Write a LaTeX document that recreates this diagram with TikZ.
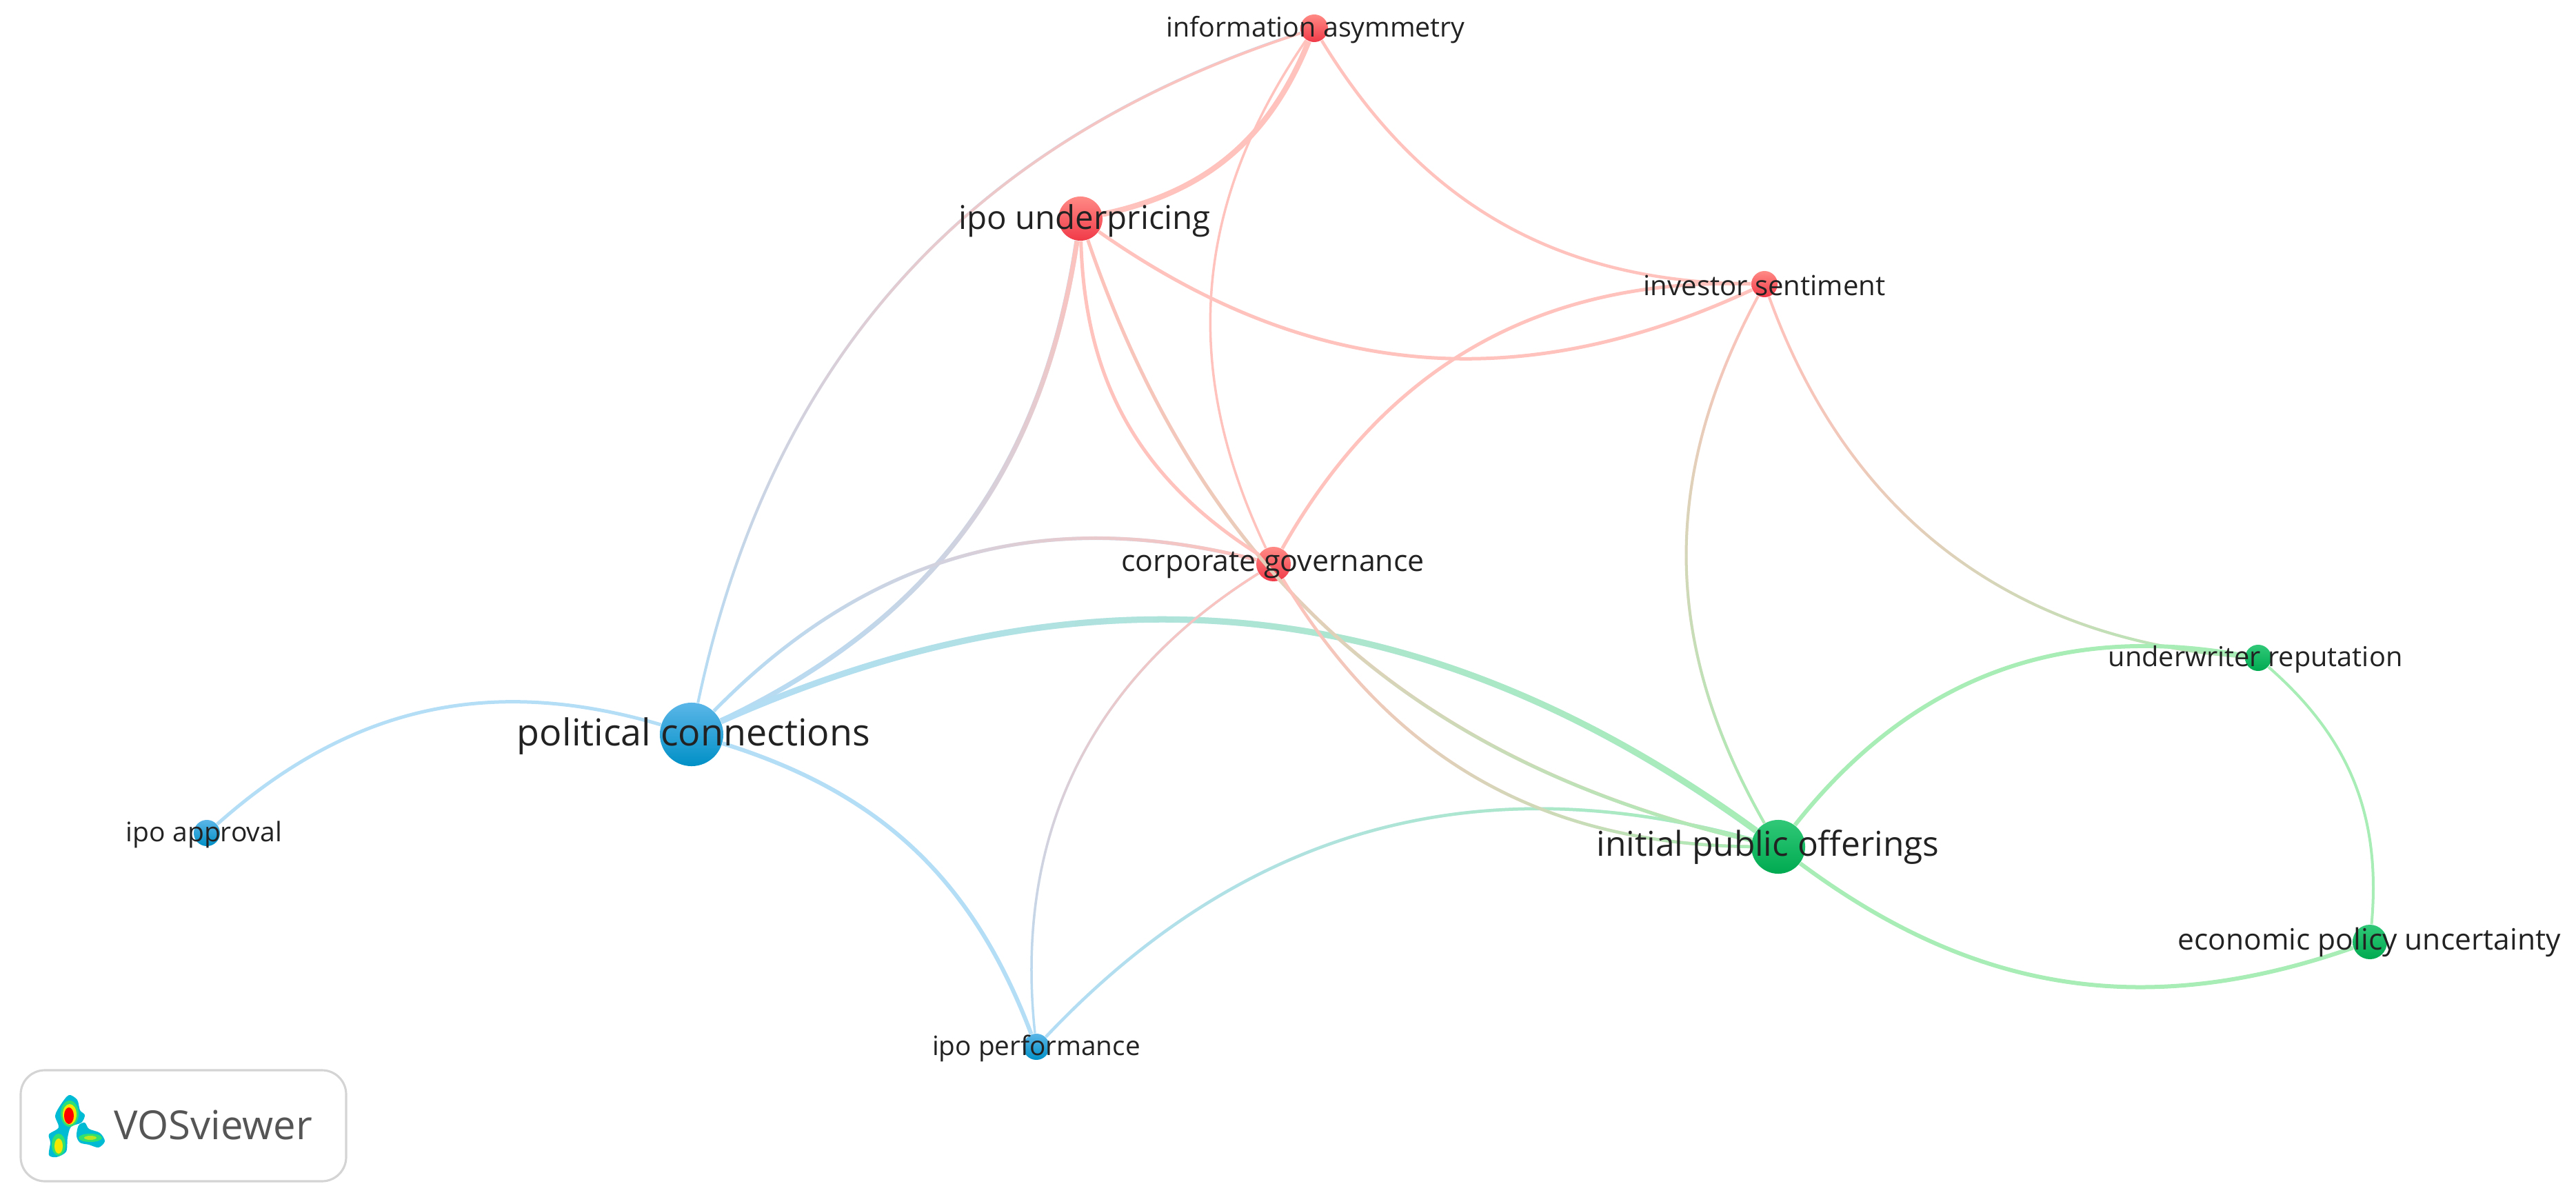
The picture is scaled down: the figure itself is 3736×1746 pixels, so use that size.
\documentclass[tikz,border=0pt]{standalone}
\usepackage[HTML]{xcolor}
\usepackage{fontspec}
\setmainfont{Open Sans}
\usepackage{tikz}
\usetikzlibrary{fadings}

\definecolor{bluelink}{HTML}{B4DDF6}
\definecolor{redlink}{HTML}{FFC2BC}
\definecolor{greenlink}{HTML}{A8EDB6}
\definecolor{labeltext}{HTML}{222222}
\definecolor{bluetop}{HTML}{5BB6E8}
\definecolor{bluebot}{HTML}{0090C6}
\definecolor{redtop}{HTML}{FF8A85}
\definecolor{redbot}{HTML}{F03A48}
\definecolor{greentop}{HTML}{30C878}
\definecolor{greenbot}{HTML}{00AA50}
\definecolor{logoedge}{HTML}{D4D4D4}
\definecolor{logotext}{HTML}{555555}
\definecolor{heatcyan}{HTML}{00BBD4}
\definecolor{heatgreen}{HTML}{30E070}
\definecolor{heatyellow}{HTML}{F4E800}

\tikzset{
  kw/.style={circle,draw=none,inner sep=0pt,minimum size=#1*0.02cm},
  bluekw/.style={kw=#1,top color=bluetop,bottom color=bluebot},
  redkw/.style={kw=#1,top color=redtop,bottom color=redbot},
  greenkw/.style={kw=#1,top color=greentop,bottom color=greenbot},
  lbl/.style={inner sep=0pt,text=labeltext,font=\fontsize{#1}{#1}\selectfont},
  link/.style={line width=#1*0.2845pt},
  mixlink/.style n args={3}{draw=#1,postaction={draw=#2,path fading=#3}}
}

\begin{document}
\begin{tikzpicture}[x=0.01cm,y=-0.01cm]
\useasboundingbox (0,0) rectangle (3736,1746);

% keywords
\node[redkw=20] (info) at (1906,41) {};
\node[redkw=32] (under) at (1567,317) {};
\node[redkw=19] (sentiment) at (2559,412) {};
\node[redkw=25] (corp) at (1847,818) {};
\node[bluekw=46] (polcon) at (1003,1065) {};
\node[bluekw=19] (approval) at (300,1208) {};
\node[bluekw=19] (perf) at (1503,1518) {};
\node[greenkw=39] (ipos) at (2579,1228) {};
\node[greenkw=19] (reput) at (3275,954) {};
\node[greenkw=25] (epu) at (3437,1366) {};

% links
\draw[bluelink,link=5] (polcon) to[bend right=29] (approval);
\draw[bluelink,link=6] (polcon) to[bend left=26] (perf);
\draw[mixlink={bluelink}{redlink}{south},link=4] (polcon) to[bend left=30] (info);
\draw[mixlink={bluelink}{redlink}{south},link=7] (polcon) to[bend right=28] (under);
\draw[mixlink={bluelink}{redlink}{west},link=5] (polcon) to[bend left=30] (corp);
\draw[mixlink={bluelink}{greenlink}{west},link=9] (polcon) to[bend left=30] (ipos);
\draw[mixlink={bluelink}{greenlink}{west},link=4.5] (perf) to[bend left=31] (ipos);
\draw[mixlink={bluelink}{redlink}{south},link=3.5] (perf) to[bend left=32] (corp);
\draw[mixlink={redlink}{greenlink}{west},link=5] (under) to[bend right=29] (ipos);
\draw[mixlink={redlink}{greenlink}{west},link=4.5] (corp) to[bend right=29] (ipos);
\draw[redlink,link=5] (under) to[bend right=28] (corp);
\draw[redlink,link=5] (under) to[bend right=30] (sentiment);
\draw[redlink,link=8] (under) to[bend right=28] (info);
\draw[redlink,link=4.5] (info) to[bend right=29] (sentiment);
\draw[redlink,link=3.5] (info) to[bend right=30] (corp);
\draw[redlink,link=5] (sentiment) to[bend right=31] (corp);
\draw[mixlink={redlink}{greenlink}{north},link=4] (sentiment) to[bend right=29] (ipos);
\draw[mixlink={redlink}{greenlink}{west},link=4] (sentiment) to[bend right=33] (reput);
\draw[greenlink,link=6] (ipos) to[bend left=31] (reput);
\draw[greenlink,link=6] (ipos) to[bend right=28] (epu);
\draw[greenlink,link=4] (reput) to[bend left=27] (epu);

% labels
\node[lbl=11.2] (infotext) at (1908,43) {information asymmetry};
\node[lbl=13.5] (undertext) at (1573,320) {ipo underpricing};
\node[lbl=11.4] (sentimenttext) at (2559,414) {investor sentiment};
\node[lbl=12.2] (corptext) at (1846,820) {corporate governance};
\node[lbl=15.3] (polcontext) at (1006,1068) {political connections};
\node[lbl=11.1] (approvaltext) at (296,1210) {ipo approval};
\node[lbl=11] (perftext) at (1503,1520) {ipo performance};
\node[lbl=14.1] (ipostext) at (2564,1228) {initial public offerings};
\node[lbl=11.3] (reputtext) at (3271,956) {underwriter reputation};
\node[lbl=12.1] (eputext) at (3436,1366) {economic policy uncertainty};

% logo
\draw[draw=logoedge,line width=0.9pt,rounded corners=35*0.01cm] (30,1552) rectangle (502,1713);
\fill[heatcyan] plot[smooth cycle] coordinates {(100,1588) (112,1595) (116,1610) (123,1617) (118,1628) (103,1634) (98,1650) (96,1670) (82,1678) (71,1675) (73,1657) (71,1645) (85,1635) (80,1618) (88,1602)};
\fill[heatcyan] plot[smooth cycle] coordinates {(114,1632) (123,1628) (129,1637) (145,1643) (152,1655) (143,1664) (129,1660) (116,1657) (111,1647)};
\fill[heatgreen] (101,1615) ellipse (13 and 19);
\fill[heatyellow] (101,1616) ellipse (10 and 15);
\fill[red] (100,1618) ellipse (7 and 12);
\fill[heatgreen] (85,1660) ellipse (10 and 16);
\fill[heatyellow] (85,1662) ellipse (6 and 11);
\fill[heatgreen] (131,1650) ellipse (17 and 6);
\fill[heatyellow!70!heatgreen] (131,1650) ellipse (9 and 3);
\node[inner sep=0pt,text=logotext,font=\fontsize{16.5}{16.5}\selectfont] (logotext) at (309,1631) {VOSviewer};
\end{tikzpicture}
\end{document}
